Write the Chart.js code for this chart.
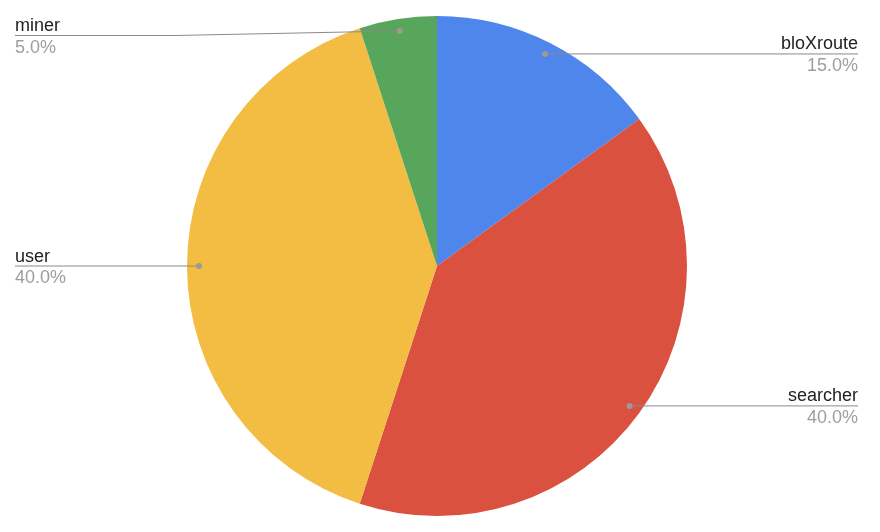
<!DOCTYPE html>
<html>
<head>
<meta charset="utf-8">
<script src="https://cdn.jsdelivr.net/npm/chart.js@4"></script>
<style>
  html, body { margin: 0; padding: 0; background: #fff; }
  #wrap { width: 880px; height: 532px; }
</style>
</head>
<body>
<div id="wrap"><canvas id="pieCanvas" width="880" height="532"></canvas></div>
<script>
// 資料
const labels = ['bloXroute', 'searcher', 'user', 'miner'];
const values = [15, 40, 40, 5];
const colors = ['#4e86ec', '#da5140', '#f3bc42', '#58a55c'];

const FONT = '"Liberation Sans", Arial, Helvetica, sans-serif';

// 引線與標籤
const leaderLabels = {
  id: 'leaderLabels',
  afterDraw(chart) {
    const ctx = chart.ctx;
    const meta = chart.getDatasetMeta(0);
    const total = values.reduce((a, b) => a + b, 0);
    ctx.save();
    meta.data.forEach((arc, i) => {
      const p = arc.getProps(['x', 'y', 'startAngle', 'endAngle', 'outerRadius'], true);
      const mid = (p.startAngle + p.endAngle) / 2;
      const dx = p.x + Math.cos(mid) * p.outerRadius * 0.952;
      const dy = p.y + Math.sin(mid) * p.outerRadius * 0.952;
      const right = Math.cos(mid) > 0;
      const lineY = Math.max(dy, 35.5);
      const endX = right ? 858 : 15;

      ctx.strokeStyle = '#8a8a8a';
      ctx.lineWidth = 1;
      ctx.beginPath();
      ctx.moveTo(dx, dy);
      if (Math.abs(lineY - dy) > 0.5) {
        ctx.lineTo(right ? 700 : 175, lineY);
      }
      ctx.lineTo(endX, lineY);
      ctx.stroke();

      ctx.fillStyle = '#9a9a9a';
      ctx.beginPath();
      ctx.arc(dx, dy, 3, 0, Math.PI * 2);
      ctx.fill();

      ctx.font = '18px ' + FONT;
      ctx.textAlign = right ? 'right' : 'left';
      ctx.textBaseline = 'alphabetic';
      ctx.fillStyle = '#222222';
      ctx.fillText(labels[i], endX, lineY - 4.5);
      ctx.fillStyle = '#9e9e9e';
      ctx.fillText((values[i] / total * 100).toFixed(1) + '%', endX, lineY + 17);
    });
    ctx.restore();
  }
};

const pieChart = new Chart(document.getElementById('pieCanvas'), {
  type: 'pie',
  data: {
    labels: labels,
    datasets: [{
      data: values,
      backgroundColor: colors,
      borderWidth: 0,
    }],
  },
  options: {
    responsive: false,
    animation: false,
    layout: {
      padding: { left: 187, right: 193, top: 16, bottom: 16 }
    },
    plugins: {
      legend: { display: false },
      tooltip: { enabled: false },
    },
  },
  plugins: [leaderLabels],
});
</script>
</body>
</html>
